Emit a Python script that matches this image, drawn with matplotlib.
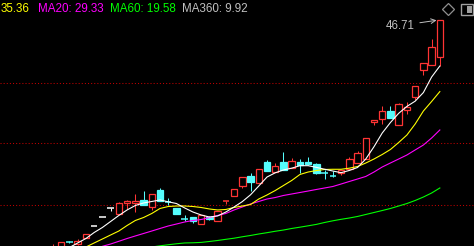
import numpy as np
import matplotlib.pyplot as plt
from matplotlib.patches import Rectangle

# daily candles
opens = [9.60, 9.90, 10.88, 10.53, 11.55, 13.39, 14.85, 16.30, 15.43, 17.11,
         17.11, 17.64, 16.51, 19.26, 17.39, 16.35, 14.63, 14.90, 13.72, 14.90,
         14.30, 17.38, 18.33, 19.95, 21.52, 20.43, 23.78, 22.16, 23.78, 22.86,
         23.78, 23.73, 23.45, 21.99, 21.56, 22.05, 22.60, 23.66, 24.34, 30.29,
         30.67, 31.96, 29.70, 32.13, 34.23, 38.59, 39.39, 40.69]
highs = [10.53, 10.86, 11.02, 11.29, 12.15, 13.39, 14.85, 16.30, 17.37, 17.64,
         18.66, 19.09, 18.56, 19.63, 17.96, 16.35, 15.17, 14.90, 15.17, 15.06,
         15.82, 17.43, 19.37, 21.31, 22.00, 22.60, 24.10, 23.57, 25.39, 24.42,
         24.26, 24.63, 23.66, 22.50, 22.32, 22.50, 24.58, 25.51, 27.73, 30.51,
         32.87, 32.82, 33.35, 33.42, 36.10, 39.72, 43.59, 46.71]
lows = [9.40, 9.70, 10.65, 10.40, 11.55, 13.39, 14.85, 15.91, 15.43, 16.14,
        15.70, 16.88, 16.03, 17.53, 16.83, 15.38, 14.20, 13.88, 13.72, 14.41,
        14.30, 17.04, 18.33, 19.63, 19.14, 20.43, 22.37, 22.16, 22.50, 22.86,
        21.95, 23.24, 21.79, 21.08, 21.31, 21.68, 22.60, 23.66, 24.34, 29.75,
        29.87, 30.93, 29.70, 31.58, 33.84, 37.83, 39.39, 39.33]
closes = [10.00, 10.86, 10.84, 11.07, 12.15, 13.39, 14.85, 16.30, 17.16, 17.48,
          17.48, 16.88, 18.56, 17.53, 17.35, 15.38, 14.60, 14.30, 15.17, 14.52,
          15.82, 17.43, 19.37, 21.31, 20.50, 22.60, 22.37, 23.13, 22.50, 23.89,
          23.34, 23.45, 22.05, 21.95, 21.40, 22.50, 24.21, 25.18, 27.73, 30.51,
          31.96, 30.93, 33.14, 32.61, 36.10, 39.72, 42.30, 46.71]

# moving averages
ma5 = [8.44, 9.24, 9.97, 10.70, 11.42, 12.39, 13.20, 14.17, 15.14, 16.03,
       16.75, 17.16, 17.40, 17.64, 17.35, 17.07, 16.35, 15.70, 15.22, 14.89,
       15.06, 15.70, 16.51, 17.38, 18.48, 19.90, 21.35, 22.03, 22.49, 22.78,
       23.18, 23.18, 22.91, 22.61, 22.32, 22.05, 22.41, 22.89, 24.26, 26.25,
       28.46, 30.16, 31.64, 32.76, 33.60, 34.99, 37.50, 39.28]
ma10 = [7.50, 8.11, 8.76, 9.40, 10.05, 10.70, 11.34, 11.99, 12.63, 13.52,
        14.33, 14.81, 15.46, 16.27, 16.59, 16.67, 16.67, 16.59, 16.43, 16.19,
        16.03, 16.11, 16.43, 16.67, 16.91, 17.80, 18.45, 19.17, 19.98, 20.79,
        21.76, 22.16, 22.40, 22.57, 22.60, 22.60, 22.78, 23.05, 23.61, 24.26,
        24.99, 25.80, 26.93, 28.14, 29.91, 32.01, 33.55, 35.15]
ma20 = [7.30, 7.79, 8.27, 8.76, 9.24, 9.73, 10.16, 10.53, 10.97, 11.42,
        11.83, 12.23, 12.63, 13.04, 13.44, 13.76, 14.09, 14.33, 14.49, 14.81,
        15.14, 15.46, 16.03, 16.51, 17.00, 17.40, 17.80, 18.04, 18.37, 18.61,
        18.85, 19.09, 19.34, 19.58, 19.82, 20.22, 20.63, 21.03, 21.44, 22.16,
        22.97, 23.62, 24.26, 24.91, 25.72, 26.52, 27.65, 28.95]
ma60 = [8.76, 8.92, 9.00, 9.08, 9.21, 9.32, 9.44, 9.57, 9.66, 9.78,
        9.89, 9.97, 10.05, 10.24, 10.41, 10.57, 10.70, 10.73, 10.79, 10.94,
        11.10, 11.29, 11.47, 11.70, 11.91, 12.15, 12.36, 12.59, 12.79, 13.04,
        13.25, 13.47, 13.70, 14.01, 14.28, 14.52, 14.73, 14.98, 15.30, 15.62,
        15.94, 16.27, 16.67, 17.07, 17.56, 18.12, 18.77, 19.58]

legend_labels = ["35.36", "MA20: 29.33", "MA60: 19.58", "MA360: 9.92"]
grid_levels = [36.54, 26.77, 16.83]

RED = "#ff3434"
CYAN = "#54fcfc"
GRAY = "#c0c0c0"

W, H = 474, 246
fig = plt.figure(figsize=(W / 100, H / 100), dpi=100, facecolor="black")
ax = fig.add_axes([0, 0, 1, 1], facecolor="black")
ax.set_xlim(-6.44, 51.15)
ax.set_ylim(10.21, 49.94)
ax.axis("off")

for lvl in grid_levels:
    ax.axhline(lvl, color="#c00000", lw=0.75, ls=(0, (1, 2)), zorder=1)

bw = 0.78
for i in range(len(closes)):
    o, h, l, c = opens[i], highs[i], lows[i], closes[i]
    if c > o:
        col = RED
    elif c < o:
        col = CYAN
    else:
        col = "white"
    ax.vlines(i, l, h, color=col, lw=0.75, zorder=2)
    if abs(c - o) < 0.2:
        ax.hlines((o + c) / 2, i - bw / 2, i + bw / 2, color=col, lw=1.1, zorder=3)
    else:
        face = "black" if c > o else CYAN
        ax.add_patch(Rectangle((i - bw / 2, min(o, c)), bw, abs(c - o),
                               facecolor=face, edgecolor=col, lw=0.9, zorder=3))

x = np.arange(len(closes))
ax.plot(x, ma60, color="#00ff00", lw=0.8, zorder=4)
ax.plot(x, ma20, color="#ff00ff", lw=0.8, zorder=4)
ax.plot(x, ma10, color="#ffff00", lw=0.8, zorder=4)
ax.plot(x, ma5, color="white", lw=0.8, zorder=4)

# highest price marker
top = int(np.argmax(highs))
ax.annotate(f"{highs[top]:.2f}", xy=(top - 0.4, highs[top] - 0.05), xytext=(43.9, 45.8),
            color=GRAY, fontsize=8.3, family="Liberation Sans", ha="right", va="center",
            arrowprops=dict(arrowstyle="->", color=GRAY, lw=0.7, shrinkA=2, shrinkB=0))

# legend row
colors = ["#ffff00", "#ff00ff", "#00ff00", GRAY]
xs = [1, 38, 110, 182]
for s, c, px in zip(legend_labels, colors, xs):
    fig.text(px / W, 1 - 8.8 / H, s, color=c, fontsize=8.4, family="Liberation Sans",
             va="center", ha="left")

# little icons top right
fig.lines.append(plt.Line2D([448 / W], [1 - 9 / H], marker="D", ms=6.5, mfc="none",
                            mec="#909090", mew=0.9, transform=fig.transFigure))
fig.patches.append(Rectangle((461 / W, 1 - 14.5 / H), 12 / W, 10.5 / H, fill=False,
                             ec="#a0a0a0", lw=1.0, transform=fig.transFigure))
fig.patches.append(Rectangle((467 / W, 1 - 12.5 / H), 4.5 / W, 6.5 / H, fc="#a0a0a0",
                             ec="none", transform=fig.transFigure))

fig.savefig("out.png", dpi=100, facecolor="black")
